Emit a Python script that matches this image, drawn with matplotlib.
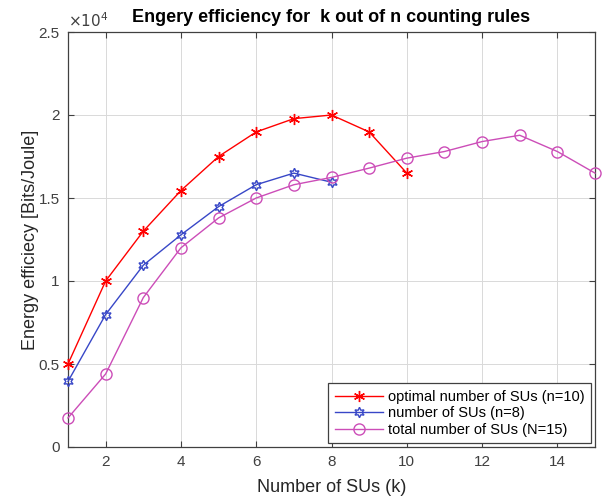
import matplotlib
matplotlib.use("Agg")
import matplotlib.pyplot as plt
import numpy as np

# Energy efficiency [bits/joule] versus number of SUs k
k_opt = [1, 2, 3, 4, 5, 6, 7, 8, 9, 10]
ee_opt = [5000, 10000, 13000, 15450, 17500, 18980, 19780, 20000, 18980, 16500]

k_n8 = [1, 2, 3, 4, 5, 6, 7, 8]
ee_n8 = [3950, 7980, 10950, 12780, 14480, 15800, 16500, 15950]

k_n15 = [1, 2, 3, 4, 5, 6, 7, 8, 9, 10, 11, 12, 13, 14, 15]
ee_n15 = [1750, 4400, 9000, 12000, 13800, 15000, 15800, 16240, 16800,
          17400, 17800, 18400, 18780, 17800, 16500]

labels = ["optimal number of SUs (n=10)",
          "number of SUs (n=8)",
          "total number of SUs (N=15)"]

plt.rcParams['font.family'] = ['Liberation Sans', 'DejaVu Sans']

fig = plt.figure(figsize=(6.09, 5.03), dpi=100)
ax = fig.add_axes([68 / 609, 1 - 447 / 503, (595 - 68) / 609, (447 - 32) / 503])

red = (1.0, 0.0, 0.0)
blue = (0.22, 0.28, 0.78)
magenta = (0.80, 0.30, 0.72)

ax.plot(k_opt, ee_opt, color=red, lw=1.0, marker=(6, 2, 0), ms=8,
        mew=1.0, label=labels[0], clip_on=False, zorder=3)
ax.plot(k_n8, ee_n8, color=blue, lw=1.0, marker=(6, 1, 0), ms=7.5,
        mfc='none', mec=blue, mew=1.0, label=labels[1], clip_on=False,
        zorder=3)
ax.plot(k_n15, ee_n15, color=magenta, lw=1.0, marker='o', ms=8,
        mfc='none', mec=magenta, mew=1.0, label=labels[2], clip_on=False,
        zorder=3)

ax.set_xlim(1, 15)
ax.set_ylim(0, 25000)
ax.set_xticks([2, 4, 6, 8, 10, 12, 14])
ax.set_yticks([0, 5000, 10000, 15000, 20000, 25000])
ax.set_yticklabels(["0", "0.5", "1", "1.5", "2", "2.5"])

tick_col = (0.25, 0.25, 0.25)
ax.tick_params(direction='in', length=4, width=0.8, colors=tick_col,
               labelsize=11, top=True, right=True, pad=6)
for s in ax.spines.values():
    s.set_color(tick_col)
    s.set_linewidth(0.9)

ax.grid(True, color=(0.85, 0.85, 0.85), lw=0.7)
ax.set_axisbelow(True)

ax.text(0.0, 1.005, r"$\times10^{4}$", transform=ax.transAxes,
        ha='left', va='bottom', fontsize=11, color=tick_col)

ax.set_title("Engery efficiency for  k out of n counting rules",
             fontsize=13, fontweight='bold', pad=7)
ax.set_xlabel("Number of SUs (k)", fontsize=13, color=(0.15, 0.15, 0.15),
              labelpad=7)
ax.set_ylabel("Energy efficiecy [Bits/Joule]", fontsize=13,
              color=(0.15, 0.15, 0.15), labelpad=0)

leg = ax.legend(loc='lower right', fontsize=10.5, frameon=True, fancybox=False,
                edgecolor=tick_col, framealpha=1, handlelength=3.3,
                borderpad=0.45, labelspacing=0.17, handletextpad=0.35,
                borderaxespad=0.25)
leg.get_frame().set_linewidth(0.9)
leg.set_zorder(5)

fig.savefig("out.png", dpi=100)
